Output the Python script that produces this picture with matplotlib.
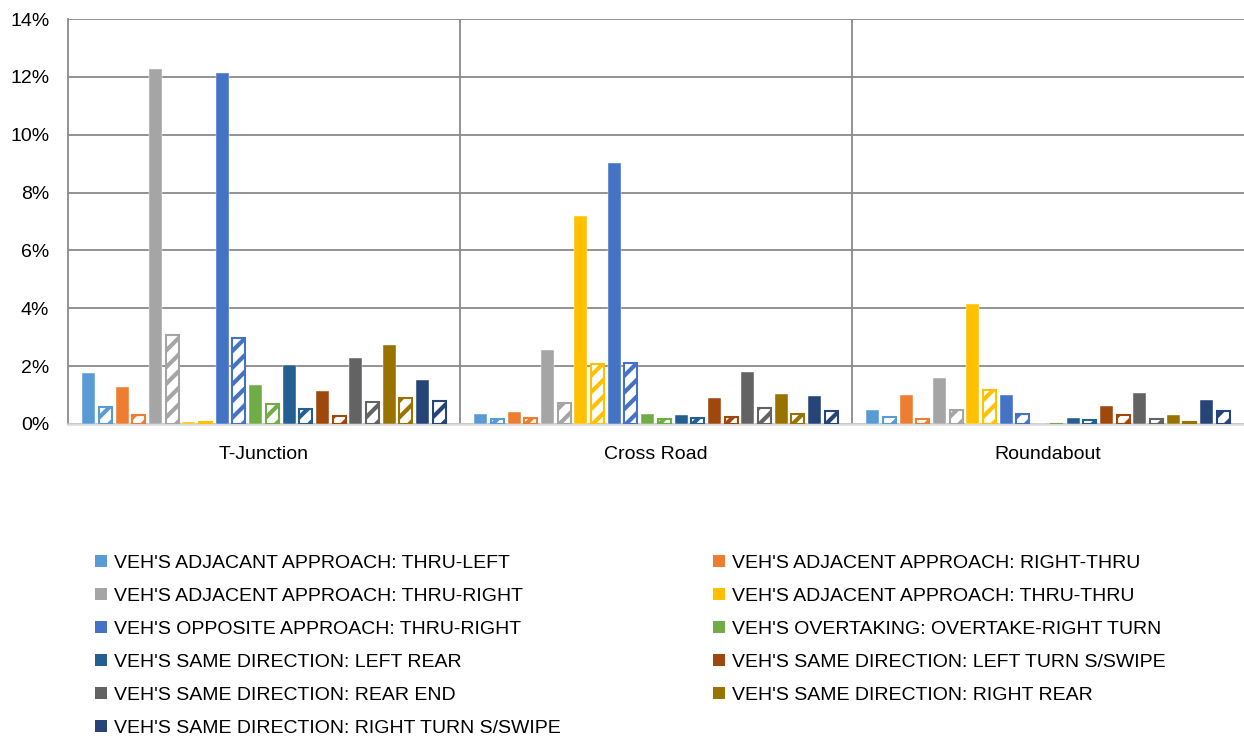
import matplotlib
matplotlib.use('Agg')
import matplotlib.pyplot as plt
from matplotlib.patches import Patch
import numpy as np

# chart data (percent of crashes)
groups = ['T-Junction', 'Cross Road', 'Roundabout']

series = [
    "VEH'S ADJACANT APPROACH: THRU-LEFT",
    "VEH'S ADJACENT APPROACH: RIGHT-THRU",
    "VEH'S ADJACENT APPROACH: THRU-RIGHT",
    "VEH'S ADJACENT APPROACH: THRU-THRU",
    "VEH'S OPPOSITE APPROACH: THRU-RIGHT",
    "VEH'S OVERTAKING: OVERTAKE-RIGHT TURN",
    "VEH'S SAME DIRECTION: LEFT REAR",
    "VEH'S SAME DIRECTION: LEFT TURN S/SWIPE",
    "VEH'S SAME DIRECTION: REAR END",
    "VEH'S SAME DIRECTION: RIGHT REAR",
    "VEH'S SAME DIRECTION: RIGHT TURN S/SWIPE",
]

colors = ['#5B9BD5', '#ED7D31', '#A5A5A5', '#FFC000', '#4472C4', '#70AD47',
          '#255E91', '#9E480E', '#636363', '#997300', '#264478']

# solid bars: one row per series, one column per group
solid_values = [
    [1.75, 0.33, 0.48],
    [1.29, 0.40, 0.99],
    [12.27, 2.55, 1.58],
    [0.08, 7.19, 4.16],
    [12.13, 9.02, 0.99],
    [1.35, 0.33, 0.0],
    [2.04, 0.31, 0.22],
    [1.15, 0.90, 0.62],
    [2.28, 1.80, 1.07],
    [2.73, 1.03, 0.30],
    [1.52, 0.97, 0.83],
]

# hatched bars (second measure for each series)
hatched_values = [
    [0.58, 0.16, 0.25],
    [0.31, 0.21, 0.16],
    [3.06, 0.74, 0.47],
    [0.08, 2.06, 1.17],
    [2.96, 2.12, 0.35],
    [0.69, 0.18, 0.0],
    [0.53, 0.21, 0.13],
    [0.27, 0.25, 0.32],
    [0.76, 0.57, 0.18],
    [0.90, 0.35, 0.07],
    [0.78, 0.45, 0.45],
]

y_ticks = [0, 2, 4, 6, 8, 10, 12, 14]
y_tick_labels = ['0%', '2%', '4%', '6%', '8%', '10%', '12%', '14%']

plt.rcParams['font.family'] = ['Liberation Sans', 'DejaVu Sans']
plt.rcParams['hatch.linewidth'] = 3.0

fig = plt.figure(figsize=(12.44, 7.36), dpi=100)
ax = fig.add_axes([68 / 1244, 1 - 424 / 736, 1 - 68 / 1244, (424 - 19) / 736])

grid_col = '#8a8a8a'
x = np.arange(len(groups))
n_bars = 2 * len(series)
step = 0.0426
width = 0.033
offsets = (np.arange(n_bars) - (n_bars - 1) / 2) * step

for i in range(len(series)):
    ax.bar(x + offsets[2 * i], solid_values[i], width=width, color=colors[i],
           edgecolor='white', linewidth=0.3, zorder=3)
    ax.bar(x + offsets[2 * i + 1], hatched_values[i], width=width,
           facecolor='white', edgecolor=colors[i], hatch='//', linewidth=1.5, zorder=3)

ax.set_xlim(-0.5, len(groups) - 0.5)
ax.set_ylim(0, 14)
ax.set_yticks(y_ticks)
ax.set_yticklabels(y_tick_labels)
ax.set_xticks(x)
ax.set_xticklabels(groups)
ax.tick_params(axis='y', length=0, pad=13.5, labelsize=14)
ax.tick_params(axis='x', length=0, pad=16, labelsize=14)

ax.yaxis.grid(True, color=grid_col, linewidth=1.3, zorder=0)
for sep in [0.5, 1.5]:
    ax.axvline(sep, color=grid_col, linewidth=1.3, zorder=0)

ax.spines['top'].set_visible(False)
ax.spines['right'].set_visible(False)
ax.spines['left'].set_color(grid_col)
ax.spines['left'].set_linewidth(1.3)
ax.spines['bottom'].set_color('#d9d9d9')
ax.spines['bottom'].set_linewidth(1.8)

# legend only for solid series, filled row by row
handles = [Patch(facecolor=c, edgecolor='none') for c in colors]
order = list(range(0, len(series), 2)) + list(range(1, len(series), 2))
fig.legend([handles[k] for k in order], [series[k] for k in order],
           ncol=2, loc='upper left', bbox_to_anchor=(95 / 1244, 1 - 555 / 736),
           frameon=False, fontsize=14, handlelength=0.6, handleheight=0.6,
           handletextpad=0.4, labelspacing=0.82, columnspacing=7.8,
           borderpad=0, borderaxespad=0)

fig.savefig('out.png', dpi=100)
